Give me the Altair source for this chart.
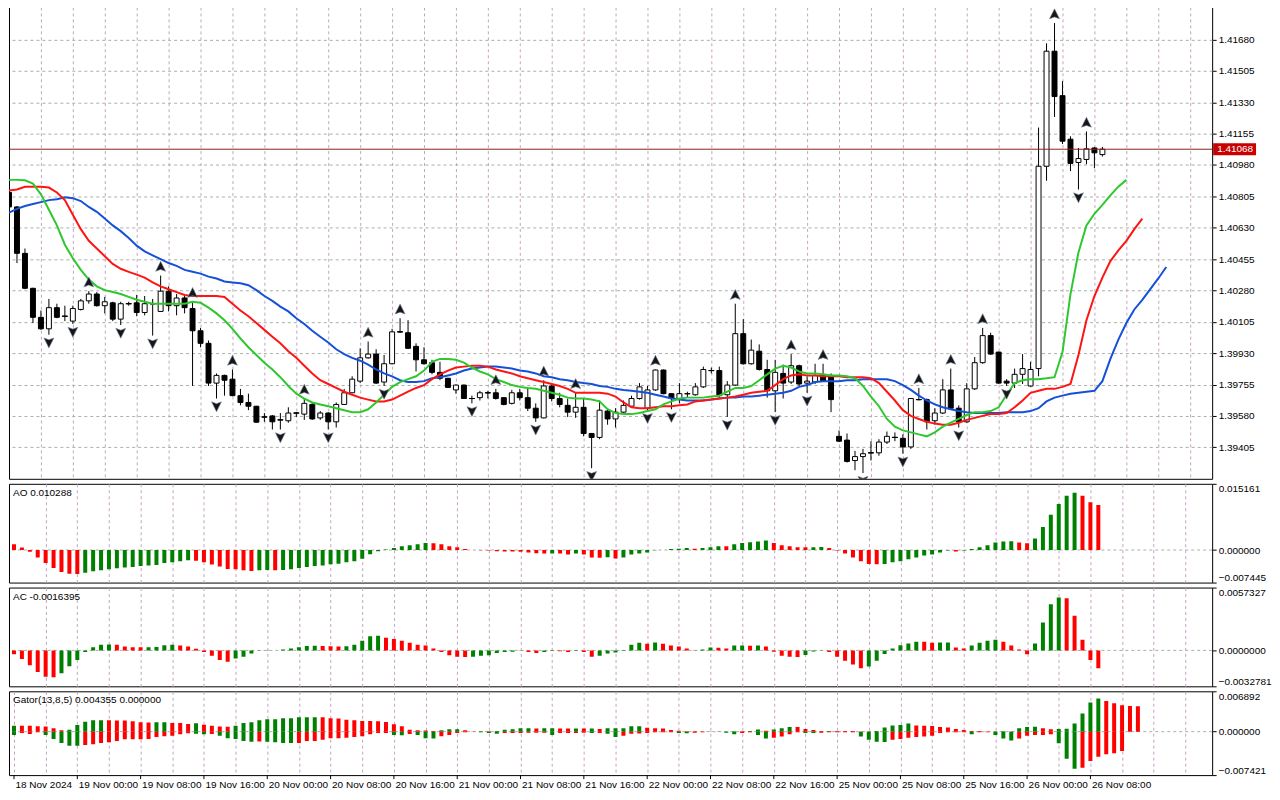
import json
import altair as alt
import pandas as pd

# ---------------- data (H1 bars, idx 0 = 18 Nov 16:00) ----------------
OPEN = [1.40827,1.40746,1.40487,1.40292,1.40130,1.40066,1.40184,1.40136,1.40109,1.40174,
        1.40222,1.40260,1.40195,1.40211,1.40120,1.40206,1.40211,1.40157,1.40206,1.40163,
        1.40276,1.40195,1.40238,1.40179,1.40055,1.39985,1.39763,1.39806,1.39785,1.39693,
        1.39655,1.39634,1.39574,1.39580,1.39558,1.39553,1.39596,1.39590,1.39644,1.39569,
        1.39596,1.39547,1.39644,1.39709,1.39774,1.39904,1.39925,1.39769,1.39871,1.40049,
        1.40044,1.39968,1.39893,1.39877,1.39823,1.39790,1.39725,1.39752,1.39677,1.39682,
        1.39709,1.39709,1.39682,1.39650,1.39709,1.39682,1.39623,1.39569,1.39747,1.39677,
        1.39639,1.39601,1.39628,1.39482,1.39460,1.39607,1.39563,1.39601,1.39634,1.39677,
        1.39623,1.39725,1.39836,1.39704,1.39677,1.39704,1.39698,1.39742,1.39833,1.39833,
        1.39698,1.39752,1.40039,1.39871,1.39941,1.39839,1.39720,1.39817,1.39769,1.39860,
        1.39763,1.39769,1.39806,1.39806,1.39466,1.39445,1.39331,1.39353,1.39374,1.39374,
        1.39434,1.39460,1.39455,1.39407,1.39671,1.39671,1.39553,1.39596,1.39725,1.39623,
        1.39547,1.39731,1.39877,1.40028,1.39936,1.39774,1.39763,1.39812,1.39747,1.39844,
        1.40973,1.41615,1.41367,1.41124,1.40994,1.41011,1.41075,1.41038]
HIGH = [1.40849,1.40751,1.40514,1.40295,1.40168,1.40233,1.40206,1.40195,1.40195,1.40233,
        1.40276,1.40271,1.40244,1.40217,1.40217,1.40217,1.40255,1.40249,1.40233,1.40363,
        1.40303,1.40260,1.40255,1.40217,1.40071,1.40001,1.39817,1.39810,1.39839,1.39731,
        1.39704,1.39636,1.39596,1.39585,1.39596,1.39628,1.39601,1.39677,1.39655,1.39607,
        1.39601,1.39655,1.39731,1.39801,1.39957,1.39995,1.39952,1.39920,1.40066,1.40125,
        1.40114,1.39985,1.39963,1.39893,1.39882,1.39792,1.39755,1.39755,1.39693,1.39720,
        1.39720,1.39731,1.39685,1.39725,1.39731,1.39731,1.39650,1.39779,1.39763,1.39709,
        1.39677,1.39709,1.39677,1.39485,1.39666,1.39623,1.39623,1.39666,1.39693,1.39763,
        1.39747,1.39839,1.39839,1.39707,1.39763,1.39715,1.39763,1.39855,1.39850,1.39855,
        1.39774,1.40206,1.40120,1.40006,1.39979,1.39893,1.39893,1.39866,1.39925,1.39866,
        1.39801,1.39871,1.39871,1.39817,1.39499,1.39482,1.39385,1.39396,1.39439,1.39450,
        1.39493,1.39488,1.39477,1.39680,1.39736,1.39677,1.39623,1.39785,1.39844,1.39639,
        1.39763,1.39909,1.40071,1.40044,1.39938,1.39785,1.39844,1.39925,1.39882,1.41189,
        1.41659,1.41772,1.41448,1.41140,1.41075,1.41167,1.41081,1.41081]
LOW = [1.40735,1.40433,1.40287,1.40098,1.40060,1.40033,1.40125,1.40109,1.40093,1.40168,
       1.40206,1.40190,1.40152,1.40109,1.40087,1.40195,1.40136,1.40141,1.40028,1.40160,
       1.40163,1.40141,1.40152,1.39747,1.39963,1.39747,1.39677,1.39693,1.39690,1.39639,
       1.39612,1.39542,1.39547,1.39504,1.39504,1.39542,1.39574,1.39558,1.39558,1.39558,
       1.39504,1.39515,1.39641,1.39707,1.39763,1.39899,1.39758,1.39747,1.39868,1.40044,
       1.39955,1.39828,1.39866,1.39812,1.39779,1.39736,1.39704,1.39675,1.39650,1.39666,
       1.39677,1.39671,1.39639,1.39644,1.39666,1.39607,1.39547,1.39566,1.39661,1.39628,
       1.39574,1.39569,1.39466,1.39288,1.39450,1.39531,1.39515,1.39596,1.39628,1.39671,
       1.39612,1.39720,1.39701,1.39617,1.39650,1.39682,1.39693,1.39736,1.39817,1.39682,
       1.39574,1.39747,1.39866,1.39866,1.39833,1.39682,1.39601,1.39677,1.39758,1.39747,
       1.39709,1.39758,1.39769,1.39601,1.39434,1.39320,1.39277,1.39261,1.39331,1.39358,
       1.39423,1.39439,1.39369,1.39396,1.39666,1.39504,1.39531,1.39590,1.39617,1.39515,
       1.39542,1.39725,1.39871,1.39920,1.39758,1.39747,1.39736,1.39758,1.39742,1.39801,
       1.40892,1.41248,1.41097,1.40946,1.40843,1.40984,1.40962,1.41027]
CLOSE = [1.40746,1.40487,1.40292,1.40130,1.40066,1.40184,1.40130,1.40136,1.40179,1.40222,
         1.40260,1.40195,1.40217,1.40120,1.40206,1.40206,1.40157,1.40206,1.40204,1.40276,
         1.40195,1.40238,1.40184,1.40055,1.39985,1.39763,1.39806,1.39779,1.39693,1.39655,
         1.39634,1.39545,1.39574,1.39547,1.39558,1.39596,1.39596,1.39650,1.39563,1.39596,
         1.39547,1.39644,1.39709,1.39785,1.39904,1.39925,1.39763,1.39871,1.40049,1.40049,
         1.39957,1.39893,1.39871,1.39823,1.39790,1.39739,1.39752,1.39677,1.39677,1.39709,
         1.39709,1.39677,1.39644,1.39709,1.39682,1.39623,1.39569,1.39747,1.39677,1.39644,
         1.39601,1.39628,1.39482,1.39460,1.39612,1.39563,1.39601,1.39639,1.39677,1.39742,
         1.39725,1.39836,1.39704,1.39677,1.39704,1.39704,1.39742,1.39839,1.39833,1.39693,
         1.39752,1.40039,1.39871,1.39947,1.39839,1.39720,1.39823,1.39763,1.39860,1.39758,
         1.39774,1.39806,1.39774,1.39671,1.39439,1.39326,1.39353,1.39369,1.39374,1.39434,
         1.39466,1.39460,1.39407,1.39677,1.39671,1.39547,1.39596,1.39725,1.39623,1.39547,
         1.39731,1.39877,1.40028,1.39925,1.39763,1.39763,1.39812,1.39844,1.39839,1.40973,
         1.41615,1.41362,1.41113,1.40989,1.41016,1.41070,1.41048,1.41068]

# Alligator lines (already shifted forward as drawn)
LIPS = [1.40897,1.40897,1.40895,1.40876,1.40816,1.40730,1.40643,1.40535,1.40460,1.40395,
        1.40341,1.40303,1.40282,1.40271,1.40260,1.40244,1.40228,1.40217,1.40206,1.40206,
        1.40206,1.40206,1.40206,1.40217,1.40211,1.40184,1.40152,1.40114,1.40066,1.40012,
        1.39963,1.39920,1.39877,1.39839,1.39796,1.39747,1.39704,1.39677,1.39655,1.39644,
        1.39634,1.39623,1.39612,1.39601,1.39601,1.39617,1.39655,1.39698,1.39742,1.39769,
        1.39785,1.39801,1.39833,1.39882,1.39898,1.39898,1.39893,1.39877,1.39850,1.39828,
        1.39812,1.39785,1.39769,1.39752,1.39742,1.39736,1.39731,1.39720,1.39709,1.39698,
        1.39682,1.39677,1.39677,1.39671,1.39661,1.39617,1.39596,1.39590,1.39590,1.39596,
        1.39607,1.39617,1.39644,1.39661,1.39677,1.39682,1.39682,1.39682,1.39688,1.39693,
        1.39715,1.39736,1.39736,1.39747,1.39779,1.39812,1.39844,1.39860,1.39850,1.39828,
        1.39817,1.39817,1.39812,1.39806,1.39806,1.39801,1.39790,1.39747,1.39688,1.39634,
        1.39563,1.39520,1.39499,1.39488,1.39477,1.39466,1.39488,1.39520,1.39542,1.39563,
        1.39585,1.39601,1.39601,1.39607,1.39628,1.39698,1.39763,1.39779,1.39785,1.39785,
        1.39790,1.39796,1.39936,1.40260,1.40492,1.40643,1.40708,1.40757,1.40811,1.40859,
        1.40897]
TEETH = [1.40838,1.40843,1.40859,1.40859,1.40859,1.40854,1.40827,1.40784,1.40703,1.40622,
         1.40557,1.40514,1.40471,1.40428,1.40401,1.40384,1.40368,1.40352,1.40325,1.40303,
         1.40287,1.40271,1.40255,1.40249,1.40249,1.40249,1.40249,1.40244,1.40206,1.40168,
         1.40136,1.40098,1.40060,1.40022,1.39985,1.39941,1.39904,1.39860,1.39817,1.39779,
         1.39758,1.39736,1.39715,1.39698,1.39682,1.39671,1.39661,1.39661,1.39671,1.39693,
         1.39715,1.39736,1.39752,1.39785,1.39812,1.39833,1.39850,1.39855,1.39860,1.39860,
         1.39855,1.39839,1.39828,1.39817,1.39801,1.39790,1.39779,1.39769,1.39758,1.39747,
         1.39731,1.39709,1.39709,1.39709,1.39709,1.39704,1.39688,1.39655,1.39628,1.39623,
         1.39623,1.39628,1.39634,1.39634,1.39639,1.39644,1.39661,1.39666,1.39671,1.39677,
         1.39682,1.39688,1.39698,1.39709,1.39715,1.39720,1.39752,1.39785,1.39806,1.39812,
         1.39806,1.39806,1.39801,1.39801,1.39801,1.39796,1.39796,1.39796,1.39790,1.39763,
         1.39715,1.39666,1.39612,1.39580,1.39563,1.39547,1.39537,1.39531,1.39531,1.39542,
         1.39558,1.39569,1.39580,1.39590,1.39590,1.39596,1.39628,1.39666,1.39709,1.39720,
         1.39731,1.39731,1.39742,1.39758,1.39920,1.40114,1.40249,1.40352,1.40444,1.40503,
         1.40557,1.40622,1.40681]
JAW = [1.40714,1.40735,1.40751,1.40762,1.40773,1.40784,1.40789,1.40800,1.40795,1.40779,
       1.40746,1.40719,1.40681,1.40643,1.40611,1.40573,1.40530,1.40498,1.40476,1.40455,
       1.40433,1.40417,1.40395,1.40384,1.40374,1.40357,1.40347,1.40330,1.40325,1.40320,
       1.40309,1.40282,1.40249,1.40222,1.40190,1.40163,1.40125,1.40093,1.40055,1.40022,
       1.39990,1.39952,1.39925,1.39904,1.39888,1.39866,1.39839,1.39817,1.39801,1.39779,
       1.39769,1.39769,1.39774,1.39790,1.39796,1.39806,1.39817,1.39833,1.39844,1.39850,
       1.39855,1.39855,1.39850,1.39844,1.39833,1.39828,1.39817,1.39801,1.39796,1.39785,
       1.39779,1.39769,1.39763,1.39758,1.39747,1.39742,1.39731,1.39725,1.39720,1.39715,
       1.39709,1.39698,1.39688,1.39677,1.39671,1.39666,1.39666,1.39666,1.39671,1.39677,
       1.39682,1.39682,1.39688,1.39688,1.39693,1.39698,1.39704,1.39709,1.39720,1.39742,
       1.39752,1.39769,1.39774,1.39774,1.39774,1.39779,1.39779,1.39785,1.39785,1.39785,
       1.39785,1.39774,1.39752,1.39725,1.39693,1.39666,1.39644,1.39628,1.39617,1.39607,
       1.39601,1.39596,1.39596,1.39596,1.39596,1.39601,1.39601,1.39601,1.39607,1.39623,
       1.39661,1.39682,1.39693,1.39704,1.39709,1.39715,1.39720,1.39774,1.39898,1.40006,
       1.40098,1.40174,1.40228,1.40287,1.40347,1.40411]

FRACTAL_UP = [10, 19, 23, 28, 37, 45, 49, 61, 67, 71, 81, 91, 98, 102, 114, 118, 122, 131, 135]
FRACTAL_DOWN = [5, 8, 14, 18, 26, 34, 40, 47, 58, 66, 73, 80, 83, 90, 96, 100, 107, 112, 119, 125, 134]

AO = [0.00132,0.00059,-0.00037,-0.00169,-0.00294,-0.00412,-0.00500,-0.00544,-0.00551,-0.00522,
      -0.00485,-0.00463,-0.00441,-0.00419,-0.00397,-0.00390,-0.00368,-0.00353,-0.00345,-0.00294,
      -0.00279,-0.00257,-0.00235,-0.00243,-0.00279,-0.00331,-0.00375,-0.00434,-0.00441,-0.00463,
      -0.00478,-0.00463,-0.00456,-0.00463,-0.00456,-0.00441,-0.00412,-0.00390,-0.00368,-0.00353,
      -0.00323,-0.00316,-0.00279,-0.00257,-0.00198,-0.00096,-0.00029,0.00015,0.00044,0.00088,
      0.00110,0.00132,0.00162,0.00155,0.00132,0.00088,0.00066,0.00022,0.00003,-0.00007,
      -0.00012,-0.00029,-0.00031,-0.00035,-0.00037,-0.00059,-0.00074,-0.00081,-0.00078,-0.00082,
      -0.00103,-0.00081,-0.00103,-0.00169,-0.00176,-0.00165,-0.00191,-0.00169,-0.00103,-0.00081,
      -0.00059,-0.00007,0.00002,0.00022,0.00029,0.00044,0.00029,0.00044,0.00066,0.00088,
      0.00085,0.00132,0.00162,0.00176,0.00197,0.00219,0.00161,0.00110,0.00088,0.00066,
      0.00062,0.00065,0.00067,0.00044,-0.00008,-0.00080,-0.00168,-0.00256,-0.00321,-0.00325,
      -0.00320,-0.00277,-0.00256,-0.00212,-0.00168,-0.00124,-0.00102,-0.00058,-0.00010,-0.00036,
      -0.00008,0.00022,0.00066,0.00110,0.00175,0.00197,0.00199,0.00175,0.00153,0.00263,
      0.00526,0.00810,0.01051,0.01241,0.01314,0.01240,0.01095,0.01029]
AO_COL = ("rrrrrrrrr" "gggggggggggggg" "rrrrrrrr" "gg" "r" "ggggggggggggggggggg"
          "rrrrrrrrrrrrrrr" "g" "rr" "g" "rrr" "g" "r" "ggggggggg" "r" "ggg" "r"
          "ggggg" "rrrrr" "gg" "rrrrrrr" "ggggggggg" "r" "ggggggg" "rr" "gggggg" "rrr")

AC = [-0.00035,-0.00078,-0.00136,-0.00197,-0.00241,-0.00244,-0.00209,-0.00145,-0.00087,-0.00015,
      0.00029,0.00052,0.00053,0.00051,0.00035,0.00029,0.00028,0.00029,0.00030,0.00046,
      0.00052,0.00044,0.00035,0.00015,-0.00015,-0.00049,-0.00087,-0.00104,-0.00073,-0.00058,
      -0.00029,-0.00003,0.00002,-0.00002,0.00009,0.00017,0.00029,0.00041,0.00042,0.00041,
      0.00037,0.00036,0.00038,0.00052,0.00087,0.00128,0.00133,0.00116,0.00104,0.00087,
      0.00070,0.00052,0.00044,0.00017,-0.00015,-0.00044,-0.00058,-0.00060,-0.00058,-0.00049,
      -0.00044,-0.00023,-0.00015,-0.00012,-0.00003,-0.00015,-0.00023,-0.00015,-0.00006,-0.00008,
      -0.00015,-0.00006,-0.00015,-0.00058,-0.00049,-0.00029,-0.00020,0.00003,0.00052,0.00070,
      0.00061,0.00072,0.00061,0.00044,0.00035,0.00017,0.00001,0.00009,0.00026,0.00024,
      0.00017,0.00044,0.00045,0.00042,0.00044,0.00035,-0.00012,-0.00050,-0.00059,-0.00060,
      -0.00041,-0.00009,0.00002,-0.00015,-0.00059,-0.00094,-0.00129,-0.00164,-0.00147,-0.00094,
      -0.00032,0.00018,0.00047,0.00062,0.00079,0.00078,0.00070,0.00071,0.00072,0.00026,
      0.00018,0.00044,0.00070,0.00088,0.00097,0.00079,0.00044,0.00009,-0.00035,0.00062,
      0.00255,0.00422,0.00483,0.00475,0.00316,0.00097,-0.00088,-0.00164]
AC_COL = ("rrrrrr" "ggggggg" "rrrr" "gggg" "rrrrrrr" "ggggg" "r" "ggggg" "rrr" "ggggg"
          "rrrrrrrrrrr" "ggggggg" "rr" "gg" "rr" "g" "rr" "gggggg" "r" "g" "rrrrr" "gg"
          "rr" "gg" "r" "g" "rrrrr" "ggg" "rrrrr" "ggggggg" "rr" "gg" "rr" "gggg" "rrrr"
          "gggg" "rrrrr")

GATOR_UP = [0.00103,0.00102,0.00100,0.00091,0.00086,0.00057,0.00023,0.00034,0.00114,0.00171,
            0.00194,0.00195,0.00193,0.00192,0.00191,0.00177,0.00160,0.00158,0.00160,0.00161,
            0.00148,0.00146,0.00131,0.00142,0.00120,0.00103,0.00086,0.00084,0.00103,0.00148,
            0.00160,0.00194,0.00211,0.00212,0.00228,0.00229,0.00245,0.00246,0.00247,0.00245,
            0.00228,0.00226,0.00205,0.00194,0.00182,0.00180,0.00177,0.00165,0.00125,0.00091,
            0.00034,0.00023,0.00020,0.00011,0.00023,0.00040,0.00041,0.00023,0.00003,0.00006,
            0.00005,0.00011,0.00034,0.00040,0.00057,0.00058,0.00056,0.00057,0.00058,0.00056,
            0.00055,0.00056,0.00055,0.00056,0.00046,0.00057,0.00058,0.00059,0.00091,0.00092,
            0.00068,0.00057,0.00055,0.00029,0.00017,0.00006,0.00005,0.00002,0.00003,0.00001,
            0.00002,0.00006,0.00005,0.00011,0.00035,0.00017,0.00035,0.00058,0.00081,0.00080,
            0.00046,0.00029,0.00012,0.00013,0.00012,0.00011,0.00010,0.00002,0.00001,0.00012,
            0.00069,0.00104,0.00115,0.00138,0.00104,0.00103,0.00098,0.00081,0.00069,0.00046,
            0.00029,0.00012,0.00011,0.00003,0.00004,0.00005,0.00003,0.00058,0.00081,0.00082,
            0.00058,0.00040,0.00046,0.00050,0.00138,0.00312,0.00496,0.00565,0.00525,0.00485,
            0.00450,0.00437,0.004355]
GATOR_UP_COL = ("g" "rrrrrr" "ggggg" "rrrrrr" "gg" "rrr" "g" "rrrr" "ggggggggggg"
                "rrrrrrrrrrrrrrr" "ggg" "rr" "g" "r" "ggggg" "r" "gg" "rr" "g" "r" "g" "r"
                "ggggg" "rrrrrrrr" "g" "r" "gg" "r" "gg" "r" "ggg" "rrrr" "g" "rrrrr" "ggggg"
                "rrrrrrrrrr" "gg" "r" "ggg" "rr" "gggggg" "rrrrr")
GATOR_DN = [-0.00057,-0.00023,-0.00040,-0.00011,-0.00057,-0.00125,-0.00194,-0.00239,-0.00240,-0.00228,
            -0.00217,-0.00194,-0.00182,-0.00160,-0.00131,-0.00130,-0.00129,-0.00125,-0.00091,-0.00080,
            -0.00068,-0.00046,-0.00029,-0.00034,-0.00046,-0.00040,-0.00068,-0.00114,-0.00125,-0.00160,
            -0.00171,-0.00170,-0.00172,-0.00182,-0.00194,-0.00195,-0.00193,-0.00160,-0.00158,-0.00137,
            -0.00114,-0.00113,-0.00103,-0.00091,-0.00080,-0.00046,-0.00023,-0.00022,-0.00057,-0.00063,
            -0.00040,-0.00057,-0.00114,-0.00115,-0.00080,-0.00057,-0.00023,-0.00011,-0.00002,-0.00011,
            -0.00023,-0.00034,-0.00023,-0.00022,-0.00021,-0.00020,-0.00019,-0.00018,-0.00057,-0.00023,
            -0.00022,-0.00021,-0.00020,-0.00022,-0.00021,-0.00034,-0.00091,-0.00068,-0.00034,-0.00033,
            -0.00023,-0.00011,-0.00010,-0.00009,-0.00023,-0.00029,-0.00017,-0.00011,-0.00002,-0.00003,
            -0.00017,-0.00046,-0.00023,-0.00011,-0.00058,-0.00115,-0.00104,-0.00081,-0.00046,-0.00012,
            -0.00023,-0.00024,-0.00017,-0.00012,-0.00011,-0.00010,-0.00009,-0.00081,-0.00138,-0.00173,
            -0.00175,-0.00138,-0.00127,-0.00104,-0.00092,-0.00081,-0.00069,-0.00023,-0.00012,-0.00011,
            -0.00010,-0.00046,-0.00012,-0.00011,-0.00058,-0.00115,-0.00150,-0.00115,-0.00069,-0.00058,
            -0.00057,-0.00046,-0.00196,-0.00462,-0.00635,-0.00617,-0.00502,-0.00427,-0.00387,-0.00369,
            -0.00329]
GATOR_DN_COL = ("g" "rrr" "ggggg" "rrrrrrrrrrrrrr" "gg" "r" "ggggg" "r" "gggg" "rrrrrrrrrrrr"
                "gg" "r" "ggg" "rrrrr" "ggg" "rrrrrr" "g" "rrrr" "g" "r" "gg" "rrrrrrr" "gg"
                "rrr" "ggg" "rr" "gg" "rrrr" "gg" "rrrrr" "gggg" "rrrrrrrrrr" "g" "rr" "ggg"
                "rrrrr" "ggg" "rrrrrr")

TIME_LABELS = ["18 Nov 2024", "19 Nov 00:00", "19 Nov 08:00", "19 Nov 16:00", "20 Nov 00:00",
               "20 Nov 08:00", "20 Nov 16:00", "21 Nov 00:00", "21 Nov 08:00", "21 Nov 16:00",
               "22 Nov 00:00", "22 Nov 08:00", "22 Nov 16:00", "25 Nov 00:00", "25 Nov 08:00",
               "25 Nov 16:00", "26 Nov 00:00", "26 Nov 08:00"]
PRICE_TICKS = [1.39405, 1.39580, 1.39755, 1.39930, 1.40105, 1.40280, 1.40455,
               1.40630, 1.40805, 1.40980, 1.41155, 1.41330, 1.41505, 1.41680]
LAST_PRICE = 1.41068
PRICE_RANGE = [1.39229, 1.41862]
AO_RANGE = [-0.007445, 0.015161]
AC_RANGE = [-0.0032781, 0.0057327]
GATOR_RANGE = [-0.007421, 0.006892]

# ---------------- layout / style ----------------
W = 1206
XMAX = W / 8.0
H_MAIN, H_AO, H_AC, H_GT = 473, 99, 99, 84
FONT = "Liberation Sans"
GRID_X = "#c4a4c4"
GRID_Y = "#a6b2a6"
BLUE, RED, GREEN = "#1450d8", "#ff1414", "#2ec82e"
UP_PATH = "M0,-1L0.95,0.9L0,0.55L-0.95,0.9Z"
DN_PATH = "M0,1L0.95,-0.9L0,-0.55L-0.95,-0.9Z"

XS = alt.Scale(domain=[0, XMAX], nice=False, zero=False)


def xaxis(labels=False):
    if labels:
        expr = ("datum.value % 8 == 0 && datum.value / 8 < {n} ? {arr}[datum.value / 8] : ''"
                .format(n=len(TIME_LABELS), arr=json.dumps(TIME_LABELS)))
        return alt.Axis(values=list(range(0, 152, 4)), grid=True, gridDash=[3, 3], gridColor=GRID_X,
                        domain=False, ticks=False, labels=True, labelExpr=expr, labelAlign="left",
                        labelPadding=4, labelOffset=1, labelOverlap=False, labelBound=False,
                        labelFlush=False, title=None)
    return alt.Axis(values=list(range(4, 152, 4)), grid=True, gridDash=[3, 3], gridColor=GRID_X,
                    domain=False, ticks=False, labels=False, title=None)


def X(field, labels=False):
    return alt.X(field, scale=XS, axis=xaxis(labels))


YS_MAIN = alt.Scale(domain=PRICE_RANGE, nice=False, zero=False)
YAX_MAIN = alt.Axis(orient="right", values=PRICE_TICKS, format=".5f", grid=True, gridDash=[3, 3],
                    gridColor=GRID_Y, domain=False, ticks=True, tickSize=4, labelPadding=2, title=None)


def YM(field):
    return alt.Y(field, scale=YS_MAIN, axis=YAX_MAIN)


# ---------------- main price panel ----------------
n = len(OPEN)
cdf = pd.DataFrame({"i": list(range(n)), "o": OPEN, "h": HIGH, "l": LOW, "c": CLOSE})
cdf["col"] = ["w" if c >= o else "b" for o, c in zip(OPEN, CLOSE)]
cdf["x0"] = cdf["i"] - 0.31
cdf["x1"] = cdf["i"] + 0.31
cdf["d0"] = cdf["i"] - 0.37
cdf["d1"] = cdf["i"] + 0.37

wick = alt.Chart(cdf).mark_rule(color="black", strokeWidth=1, clip=True).encode(
    x=X("i:Q"), y=YM("l:Q"), y2="h:Q")
body = alt.Chart(cdf).mark_rect(stroke="black", strokeWidth=1, clip=True).encode(
    x=X("x0:Q"), x2="x1:Q", y=YM("o:Q"), y2="c:Q",
    fill=alt.Fill("col:N", scale=alt.Scale(domain=["w", "b"], range=["#ffffff", "#000000"]), legend=None))
doji = alt.Chart(cdf[cdf["o"] == cdf["c"]]).mark_rule(color="black", strokeWidth=1, clip=True).encode(
    x=X("d0:Q"), x2="d1:Q", y=YM("o:Q"))

rows = []
for name, arr in (("jaw", JAW), ("teeth", TEETH), ("lips", LIPS)):
    for k, v in enumerate(arr):
        rows.append({"i": k, "v": v, "s": name})
ldf = pd.DataFrame(rows)
lines = alt.Chart(ldf).mark_line(strokeWidth=2, clip=True).encode(
    x=X("i:Q"), y=YM("v:Q"),
    color=alt.Color("s:N", scale=alt.Scale(domain=["jaw", "teeth", "lips"], range=[BLUE, RED, GREEN]),
                    legend=None))

fu_df = pd.DataFrame({"i": FRACTAL_UP, "p": [HIGH[k] for k in FRACTAL_UP]})
fd_df = pd.DataFrame({"i": FRACTAL_DOWN, "p": [LOW[k] for k in FRACTAL_DOWN]})
frac_up = alt.Chart(fu_df).mark_point(shape=UP_PATH, filled=True, size=110, fill="#161616",
                                      stroke="#7886a0", strokeWidth=0.6, opacity=1, yOffset=-9,
                                      clip=True).encode(x=X("i:Q"), y=YM("p:Q"))
frac_dn = alt.Chart(fd_df).mark_point(shape=DN_PATH, filled=True, size=110, fill="#161616",
                                      stroke="#7886a0", strokeWidth=0.6, opacity=1, yOffset=8,
                                      clip=True).encode(x=X("i:Q"), y=YM("p:Q"))

lp = pd.DataFrame({"p": [LAST_PRICE]})
price_line = alt.Chart(lp).mark_rule(color="#8a2020", strokeWidth=1).encode(y=YM("p:Q"))
price_tag = alt.Chart(lp).mark_rule(color="#c80000", strokeWidth=12, strokeCap="butt").encode(
    y=YM("p:Q"), x=alt.value(W + 1), x2=alt.value(W + 44))
price_txt = alt.Chart(lp).mark_text(align="left", baseline="middle", color="white", font=FONT,
                                    fontSize=10).encode(
    y=YM("p:Q"), x=alt.value(W + 5), text=alt.Text("p:Q", format=".5f"))

main = alt.layer(wick, body, doji, lines, frac_up, frac_dn, price_line, price_tag, price_txt).properties(
    width=W, height=H_MAIN)


# ---------------- indicator panels ----------------
def panel(values, cols, rng, fmt, title, h, labels=False, extra=None):
    ys = alt.Scale(domain=rng, nice=False, zero=False)
    ya = alt.Axis(orient="right", values=[rng[0], 0, rng[1]], format=fmt, grid=False, domain=False,
                  ticks=True, tickSize=4, labelFlush=True, labelPadding=2, title=None)
    df = pd.DataFrame([{"i": k, "v": v, "c": c} for k, (v, c) in enumerate(zip(values, cols))])
    if extra is not None:
        vals2, cols2 = extra
        df2 = pd.DataFrame([{"i": k, "v": v, "c": c} for k, (v, c) in enumerate(zip(vals2, cols2))])
        df = pd.concat([df, df2], ignore_index=True)
    zero = alt.Chart(pd.DataFrame({"z": [0.0]})).mark_rule(color=GRID_Y, strokeDash=[3, 3]).encode(
        y=alt.Y("z:Q", scale=ys, axis=ya))
    bars = alt.Chart(df).mark_bar(size=4, clip=True).encode(
        x=X("i:Q", labels), y=alt.Y("v:Q", scale=ys, axis=ya), y2=alt.Y2Datum(0),
        color=alt.Color("c:N", scale=alt.Scale(domain=["g", "r"], range=["#008000", "#ff0000"]),
                        legend=None))
    txt = alt.Chart(pd.DataFrame({"t": [title]})).mark_text(
        align="left", baseline="middle", font=FONT, fontSize=10, color="black").encode(
        x=alt.value(4), y=alt.value(9), text="t:N")
    layers = [zero, bars, txt]
    if labels:
        tdf = pd.DataFrame({"i": [8 * k for k in range(len(TIME_LABELS))]})
        ticks = alt.Chart(tdf).mark_rule(color="black", strokeWidth=1).encode(
            x=X("i:Q", labels), y=alt.value(h), y2=alt.value(h + 4))
        layers.append(ticks)
    return alt.layer(*layers).properties(width=W, height=h)


ao = panel(AO, AO_COL, AO_RANGE, ".6f", "AO 0.010288", H_AO)
ac = panel(AC, AC_COL, AC_RANGE, ".7f", "AC -0.0016395", H_AC)
gt = panel(GATOR_UP, GATOR_UP_COL, GATOR_RANGE, ".6f", "Gator(13,8,5) 0.004355 0.000000", H_GT,
           labels=True, extra=(GATOR_DN, GATOR_DN_COL))

chart = alt.vconcat(main, ao, ac, gt, spacing=3,
                    padding={"top": -3, "left": 0, "right": 0, "bottom": 0}).resolve_scale(
    color="independent", fill="independent", y="independent"
).configure_axis(
    labelFont=FONT, labelFontSize=10, labelColor="black", tickColor="black"
).configure_view(stroke="black", strokeWidth=1)

chart.save("out.html", embed_options={"renderer": "svg", "actions": False})
